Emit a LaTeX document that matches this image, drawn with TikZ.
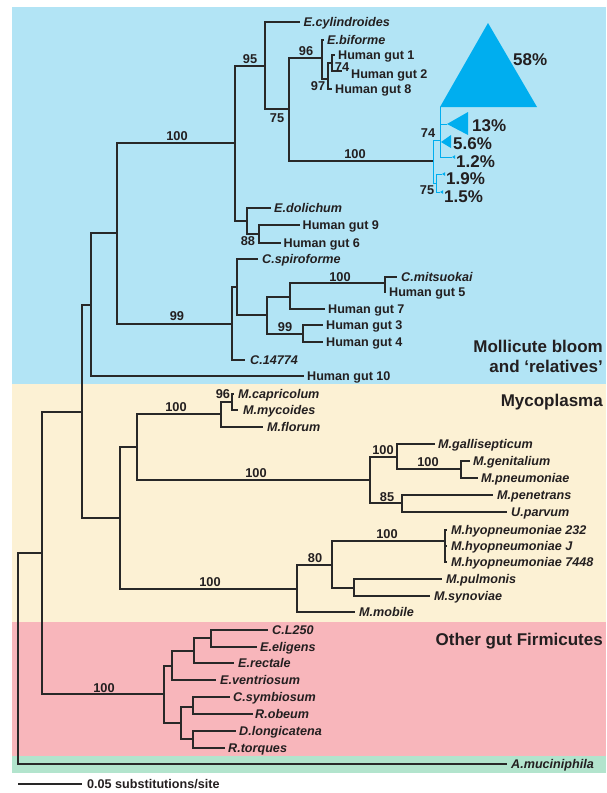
\documentclass[tikz,border=0pt]{standalone}
\usepackage{fontspec}
\setmainfont{Liberation Sans}
\usepackage{tikz}
\usetikzlibrary{positioning}
\definecolor{bloombg}{RGB}{178,228,245}
\definecolor{mycobg}{RGB}{252,241,212}
\definecolor{firmbg}{RGB}{248,182,187}
\definecolor{outbg}{RGB}{178,228,205}
\definecolor{cladeblue}{RGB}{0,174,239}
\definecolor{treeink}{RGB}{40,40,40}
\definecolor{labink}{RGB}{35,31,32}
\tikzset{
  branch/.style={draw=treeink, line width=1.2pt},
  bluebranch/.style={draw=cladeblue, line width=1pt},
  taxon/.style={anchor=west, inner sep=0pt, text height=9pt, text depth=0pt,
                text=labink, font=\fontsize{12.6}{14}\selectfont\bfseries},
  species/.style={taxon, font=\fontsize{12.6}{14}\selectfont\bfseries\itshape},
  boot/.style={inner sep=0pt, text=labink, font=\fontsize{12.8}{14}\selectfont\bfseries},
  share/.style={anchor=west, inner sep=0pt, text=labink,
                font=\fontsize{17}{20}\selectfont\bfseries},
  group/.style={anchor=base east, align=right, inner sep=0pt, text=labink,
                font=\fontsize{17}{20}\selectfont\bfseries},
}
\begin{document}
\begin{tikzpicture}[x=1pt, y=-1pt]
\useasboundingbox (0,0) rectangle (606,793);
\fill[bloombg] (12,7) rectangle (606,384);
\fill[mycobg] (12,384) rectangle (606,622);
\fill[firmbg] (12,622) rectangle (606,756);
\fill[outbg] (12,756) rectangle (606,773);

% inner nodes
\coordinate (root) at (18,658);
\coordinate (ingrp) at (42,553);
\coordinate (n82) at (82,412);
\coordinate (bloom) at (91,305);
\coordinate (n117) at (117,233);
\coordinate (n235) at (235,143);
\coordinate (n265) at (265,66);
\coordinate (n289) at (289,109);
\coordinate (n322) at (322,58);
\coordinate (n328) at (328,79);
\coordinate (n332) at (332,63);
\coordinate (n433) at (433,161);
\coordinate (nY) at (440,140);
\coordinate (nZ) at (436,183);
\coordinate (n247) at (247,221);
\coordinate (n259) at (259,234);
\coordinate (n232) at (232,324);
\coordinate (n237) at (237,287);
\coordinate (n267) at (267,315);
\coordinate (n290) at (290,297);
\coordinate (n385) at (385,283);
\coordinate (n303) at (303,334);
\coordinate (myco) at (120,518);
\coordinate (n137) at (137,447);
\coordinate (n221) at (221,414);
\coordinate (n232b) at (232,402);
\coordinate (n370) at (370,480);
\coordinate (n397) at (397,457);
\coordinate (n461) at (461,469);
\coordinate (n402) at (402,503);
\coordinate (n297) at (297,589);
\coordinate (n332m) at (332,565);
\coordinate (hyo) at (445,541);
\coordinate (n354) at (354,588);
\coordinate (firm) at (164,694);
\coordinate (n172) at (172,666);
\coordinate (n194) at (194,651);
\coordinate (n211) at (211,638);
\coordinate (n181) at (181,723);
\coordinate (n193a) at (193,707);
\coordinate (n193b) at (193,739);

% tips
\coordinate (cyl) at (300,22);
\coordinate (bif) at (324,40);
\coordinate (hg1) at (335,55);
\coordinate (hg2) at (342,71);
\coordinate (hg8) at (332,89);
\coordinate (t58) at (440,107);
\coordinate (t13) at (447,124);
\coordinate (t56) at (441,142);
\coordinate (t12) at (452,157);
\coordinate (t19) at (442,174);
\coordinate (t15) at (440,192);
\coordinate (dol) at (271,208);
\coordinate (hg9) at (300,225);
\coordinate (hg6) at (281,243);
\coordinate (spi) at (258,259);
\coordinate (mit) at (397,277);
\coordinate (hg5) at (386,292);
\coordinate (hg7) at (325,309);
\coordinate (hg3) at (323,325);
\coordinate (hg4) at (323,342);
\coordinate (c14) at (245,360);
\coordinate (hg10) at (304,376);
\coordinate (cap) at (234,394);
\coordinate (myc) at (238,410);
\coordinate (flo) at (263,427);
\coordinate (gal) at (435,444);
\coordinate (gen) at (470,461);
\coordinate (pne) at (478,478);
\coordinate (pen) at (493,495);
\coordinate (upa) at (507,512);
\coordinate (hy232) at (447,530);
\coordinate (hyJ) at (447,546);
\coordinate (hy7448) at (447,562);
\coordinate (pul) at (442,579);
\coordinate (syn) at (430,596);
\coordinate (mob) at (355,612);
\coordinate (cl250) at (268,630);
\coordinate (eli) at (257,647);
\coordinate (rec) at (234,663);
\coordinate (ven) at (216,680);
\coordinate (sym) at (230,697);
\coordinate (obe) at (253,714);
\coordinate (lon) at (236,731);
\coordinate (tor) at (225,748);
\coordinate (amu) at (507,764);

\draw[branch] (root) |- (ingrp) (root) |- (amu);
\draw[branch] (ingrp) |- (n82) (ingrp) |- (firm);
\draw[branch] (n82) |- (bloom) (n82) |- (myco);
\draw[branch] (bloom) |- (n117) (bloom) |- (hg10);
\draw[branch] (n117) |- (n235) (n117) |- (n232);
\draw[branch] (n235) |- (n265) (n235) |- (n247);
\draw[branch] (n265) |- (cyl) (n265) |- (n289);
\draw[branch] (n289) |- (n322) (n289) |- (n433);
\draw[branch] (n322) |- (bif) (n322) |- (n328);
\draw[branch] (n328) |- (n332) (n328) |- (hg8);
\draw[branch] (n332) |- (hg1) (n332) |- (hg2);
\draw[bluebranch] (n433) |- (nY) (n433) |- (nZ);
\draw[bluebranch] (nY) |- (t58) (nY) |- (t13) (nY) |- (t56) (nY) |- (t12);
\draw[bluebranch] (nZ) |- (t19) (nZ) |- (t15);
\draw[branch] (n247) |- (dol) (n247) |- (n259);
\draw[branch] (n259) |- (hg9) (n259) |- (hg6);
\draw[branch] (n232) |- (n237) (n232) |- (c14);
\draw[branch] (n237) |- (spi) (n237) |- (n267);
\draw[branch] (n267) |- (n290) (n267) |- (n303);
\draw[branch] (n290) |- (n385) (n290) |- (hg7);
\draw[branch] (n385) |- (mit) (n385) |- (hg5);
\draw[branch] (n303) |- (hg3) (n303) |- (hg4);
\draw[branch] (myco) |- (n137) (myco) |- (n297);
\draw[branch] (n137) |- (n221) (n137) |- (n370);
\draw[branch] (n221) |- (n232b) (n221) |- (flo);
\draw[branch] (n232b) |- (cap) (n232b) |- (myc);
\draw[branch] (n370) |- (n397) (n370) |- (n402);
\draw[branch] (n397) |- (gal) (n397) |- (n461);
\draw[branch] (n461) |- (gen) (n461) |- (pne);
\draw[branch] (n402) |- (pen) (n402) |- (upa);
\draw[branch] (n297) |- (n332m) (n297) |- (mob);
\draw[branch] (n332m) |- (hyo) (n332m) |- (n354);
\draw[branch] (hyo) |- (hy232) (hyo) |- (hyJ) (hyo) |- (hy7448);
\draw[branch] (n354) |- (pul) (n354) |- (syn);
\draw[branch] (firm) |- (n172) (firm) |- (n181);
\draw[branch] (n172) |- (n194) (n172) |- (ven);
\draw[branch] (n194) |- (n211) (n194) |- (rec);
\draw[branch] (n211) |- (cl250) (n211) |- (eli);
\draw[branch] (n181) |- (n193a) (n181) |- (n193b);
\draw[branch] (n193a) |- (sym) (n193a) |- (obe);
\draw[branch] (n193b) |- (lon) (n193b) |- (tor);

% collapsed clades
\fill[cladeblue] (t58) -- (537,107) -- (488,23) -- cycle;
\fill[cladeblue] (t13) -- (468,112) -- (468,135) -- cycle;
\fill[cladeblue] (t56) -- (451,135) -- (451,148) -- cycle;
\fill[cladeblue] (t12) -- ++(3,-1.8) -- ++(0,3.6) -- cycle;
\fill[cladeblue] (t19) -- ++(3,-1.8) -- ++(0,3.6) -- cycle;
\fill[cladeblue] (t15) -- ++(3,-1.8) -- ++(0,3.6) -- cycle;

\node[share] (p58) at (513,60) {58\%};
\node[share] (p13) at (472,126) {13\%};
\node[share] (p56) at (453,144) {5.6\%};
\node[share] (p12) at (456,162) {1.2\%};
\node[share] (p19) at (446,179) {1.9\%};
\node[share] (p15) at (444,197) {1.5\%};

\node[species, right=3.5pt of cyl] (lcyl) {E.cylindroides};
\node[species, right=3pt of bif] (lbif) {E.biforme};
\node[taxon, right=3pt of hg1] (lhg1) {Human gut 1};
\node[taxon, right=9pt of hg2, yshift=-3pt] (lhg2) {Human gut 2};
\node[taxon, right=3pt of hg8] (lhg8) {Human gut 8};
\node[species, right=3pt of dol] (ldol) {E.dolichum};
\node[taxon, right=2.5pt of hg9] (lhg9) {Human gut 9};
\node[taxon, right=2.5pt of hg6] (lhg6) {Human gut 6};
\node[species, right=4pt of spi] (lspi) {C.spiroforme};
\node[species, right=4pt of mit] (lmit) {C.mitsuokai};
\node[taxon, right=3pt of hg5] (lhg5) {Human gut 5};
\node[taxon, right=3pt of hg7] (lhg7) {Human gut 7};
\node[taxon, right=3pt of hg3] (lhg3) {Human gut 3};
\node[taxon, right=3pt of hg4] (lhg4) {Human gut 4};
\node[species, right=5pt of c14] (lc14) {C.14774};
\node[taxon, right=3pt of hg10] (lhg10) {Human gut 10};
\node[species, right=4pt of cap] (lcap) {M.capricolum};
\node[species, right=5pt of myc] (lmyc) {M.mycoides};
\node[species, right=4pt of flo] (lflo) {M.florum};
\node[species, right=3pt of gal] (lgal) {M.gallisepticum};
\node[species, right=3pt of gen] (lgen) {M.genitalium};
\node[species, right=3pt of pne] (lpne) {M.pneumoniae};
\node[species, right=4pt of pen] (lpen) {M.penetrans};
\node[species, right=4pt of upa] (lupa) {U.parvum};
\node[species, right=4pt of hy232] (lhy232) {M.hyopneumoniae 232};
\node[species, right=4pt of hyJ] (lhyJ) {M.hyopneumoniae J};
\node[species, right=4pt of hy7448] (lhy7448) {M.hyopneumoniae 7448};
\node[species, right=4pt of pul] (lpul) {M.pulmonis};
\node[species, right=4pt of syn] (lsyn) {M.synoviae};
\node[species, right=4pt of mob] (lmob) {M.mobile};
\node[species, right=4pt of cl250] (lcl250) {C.L250};
\node[species, right=3pt of eli] (leli) {E.eligens};
\node[species, right=4pt of rec] (lrec) {E.rectale};
\node[species, right=4pt of ven] (lven) {E.ventriosum};
\node[species, right=3pt of sym] (lsym) {C.symbiosum};
\node[species, right=2pt of obe] (lobe) {R.obeum};
\node[species, right=3pt of lon] (llon) {D.longicatena};
\node[species, right=3pt of tor] (ltor) {R.torques};
\node[species, right=4pt of amu] (lamu) {A.muciniphila};

% bootstrap values
\node[boot] (b1) at (177,136) {100};
\node[boot] (b2) at (250,59) {95};
\node[boot] (b3) at (306,51) {96};
\node[boot] (b4) at (277,118) {75};
\node[boot] (b5) at (342,67) {74};
\node[boot] (b6) at (318,86) {97};
\node[boot] (b7) at (355,154) {100};
\node[boot] (b8) at (428,133) {74};
\node[boot] (b9) at (427,190) {75};
\node[boot] (b10) at (248,241) {88};
\node[boot] (b11) at (177,316) {99};
\node[boot] (b12) at (340,277) {100};
\node[boot] (b13) at (285,327) {99};
\node[boot] (b14) at (223,394) {96};
\node[boot] (b15) at (176,407) {100};
\node[boot] (b16) at (256,473) {100};
\node[boot] (b17) at (383,450) {100};
\node[boot] (b18) at (428,462) {100};
\node[boot] (b19) at (387,497) {85};
\node[boot] (b20) at (387,534) {100};
\node[boot] (b21) at (315,558) {80};
\node[boot] (b22) at (210,582) {100};
\node[boot] (b23) at (104,688) {100};

\node[group, anchor=east] (gbloom) at (603,356) {Mollicute bloom\\and ‘relatives’};
\node[group] (gmyco) at (603,406) {Mycoplasma};
\node[group] (gfirm) at (603,645) {Other gut Firmicutes};

\coordinate (sbl) at (18,784);
\coordinate (sbr) at (82,784);
\draw[branch] (sbl) -- (sbr);
\node[taxon, right=5pt of sbr] (lsb) {0.05 substitutions/site};
\end{tikzpicture}
\end{document}
